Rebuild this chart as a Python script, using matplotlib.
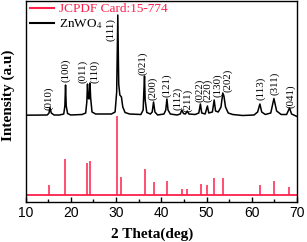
import matplotlib
matplotlib.use("Agg")
import matplotlib.pyplot as plt
from matplotlib.lines import Line2D
from matplotlib.ticker import MultipleLocator

plt.rcParams["mathtext.fontset"] = "stix"

RED = "#FF1F4B"

two_theta = [10, 14.8, 15.2, 15.4, 15.7, 16.3, 17.5, 18.45, 18.7, 18.85, 19.0, 19.3,
             20.0, 22.5, 23.3, 23.55, 23.7, 23.85, 24.05, 24.25, 24.4, 24.7, 25.5,
             29.0, 29.8, 30.15, 30.4, 30.6, 30.85, 31.2, 31.5, 32.0, 33.0, 35.5,
             36.0, 36.15, 36.3, 36.45, 36.8, 37.6, 38.0, 38.3, 38.6, 39.2, 40.6,
             41.0, 41.25, 41.5, 42.0, 43.5, 44.2, 44.55, 44.9, 45.35, 45.75, 46.1,
             47.5, 48.3, 48.65, 48.95, 49.7, 50.2, 50.5, 51.3, 51.7, 52.0, 52.6,
             53.2, 53.6, 53.85, 54.2, 54.8, 55.8, 58.0, 60.5, 61.3, 61.8, 62.2,
             63.0, 64.2, 64.9, 65.5, 66.5, 67.7, 68.35, 68.8, 70.0]
intensity = [86.8, 87, 89, 94.5, 89, 87, 87, 88, 96, 117, 96, 88.5,
             87, 87.5, 89, 100, 118, 104, 103, 119, 104, 90, 88,
             88, 90, 110, 187, 118, 107, 105, 95, 89.5, 88, 87.5,
             92, 110, 126, 102, 89.5, 88, 90, 100, 90, 87, 88,
             92, 103, 92, 88, 87, 88, 92, 88.5, 88, 91, 88,
             87.5, 89, 98, 89, 88, 96, 89, 90, 102, 91, 90,
             95, 109, 106, 95, 89, 87.5, 86.5, 87, 90, 98, 90,
             87.5, 89, 103.5, 91, 87.5, 87.5, 94, 88, 85.5]

# JCPDF 15-774 reference sticks
card_pos = [15.3, 18.8, 23.6, 24.3, 30.3, 31.2, 36.3, 38.3, 41.3, 44.6, 45.8,
            48.7, 50.2, 51.7, 53.6, 61.8, 64.9, 68.3]
card_int = [10, 36, 32, 34, 79, 18, 26, 13, 14, 6, 6, 11, 10, 17, 17, 10, 14, 8]
card_base = 7

# peak labels
hkl = ["(010)", "(100)", "(011)", "(110)", "(111)", "(021)", "(200)", "(121)",
       "(112)", "(211)", "(022)", "(220)", "(130)", "(202)", "(113)", "(311)", "(041)"]
hkl_x = [15.1, 18.85, 22.6, 25.3, 28.9, 35.9, 38.1, 41.2, 43.7, 45.9, 48.4,
         50.35, 52.5, 54.6, 62.0, 65.0, 68.6]
hkl_y = [92, 120, 119, 119, 161, 127, 102, 105, 92, 90, 100, 100, 105, 110,
         102, 107, 94]

fig = plt.figure(figsize=(3.07, 2.42), dpi=100)
ax = fig.add_axes([25.5 / 307, 40 / 242, 271.5 / 307, 201 / 242])

ax.plot(two_theta, intensity, color="black", lw=1.1)
ax.hlines(card_base, 10, 70, color=RED, lw=1.3)
ax.vlines(card_pos, card_base, [card_base + h for h in card_int], color=RED, lw=1.1)

for lab, x, y in zip(hkl, hkl_x, hkl_y):
    ax.text(x, y, lab, rotation=90, ha="center", va="bottom",
            family="Liberation Serif", fontsize=7.8)

ax.set_xlim(10, 70)
ax.set_ylim(0, 201)
ax.xaxis.set_major_locator(MultipleLocator(10))
ax.xaxis.set_minor_locator(MultipleLocator(5))
ax.set_yticks([])
ax.tick_params(axis="x", which="major", direction="in", length=3.5, width=1, pad=3,
               labelsize=10)
ax.tick_params(axis="x", which="minor", direction="in", length=2, width=1)
for lbl in ax.get_xticklabels():
    lbl.set_family("Liberation Sans")
for sp in ax.spines.values():
    sp.set_linewidth(1.0)

ax.set_xlabel("2 Theta(deg)", family="Liberation Serif", fontweight="bold",
              fontsize=11, labelpad=1)
ax.xaxis.set_label_coords(0.468, -0.125)
ax.set_ylabel("Intensity (a.u)", family="Liberation Serif", fontweight="bold",
              fontsize=11)
ax.yaxis.set_label_coords(-0.04, 0.53)

handles = [Line2D([], [], color=RED, lw=1.5), Line2D([], [], color="black", lw=1.5)]
leg = ax.legend(handles, ["JCPDF Card:15-774", "ZnWO$_4$"], loc="upper left",
                bbox_to_anchor=(0.0155, 0.99), frameon=False, borderpad=0,
                borderaxespad=0, handlelength=1.85, handletextpad=0.4,
                labelspacing=0.15, prop={"family": "Liberation Serif", "size": 9.5})
leg.get_texts()[0].set_color(RED)

fig.savefig("out.png", dpi=100)
